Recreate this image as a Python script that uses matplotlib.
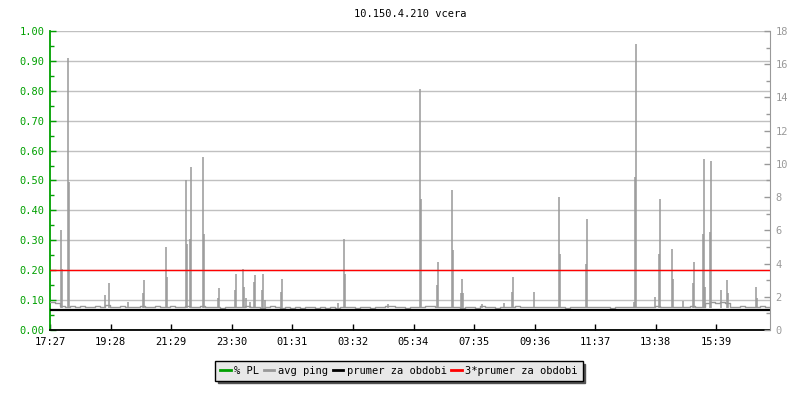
import numpy as np
import matplotlib
matplotlib.use('Agg')
import matplotlib.pyplot as plt
from matplotlib.lines import Line2D
from matplotlib.ticker import MultipleLocator

plt.rcParams['font.family'] = ['DejaVu Sans Mono']
plt.rcParams['font.size'] = 7.5

# casova osa v minutach od 17:27 (24 h)
tick_min = [0, 121, 242, 363, 484, 605, 727, 848, 969, 1090, 1211, 1332]
tick_lbl = ['17:27', '19:28', '21:29', '23:30', '01:31', '03:32',
            '05:34', '07:35', '09:36', '11:37', '13:38', '15:39']

# zakladni avg ping [ms], vzorek po 10 minutach
base_ping = [
    1.70, 1.62, 1.45, 1.40, 1.42, 1.38, 1.45, 1.40, 1.36, 1.42, 1.40, 1.48,
    1.40, 1.38, 1.44, 1.40, 1.36, 1.40, 1.45, 1.38, 1.40, 1.42, 1.38, 1.40,
    1.44, 1.40, 1.36, 1.42, 1.40, 1.38, 1.45, 1.40, 1.36, 1.38, 1.35, 1.40,
    1.36, 1.40, 1.38, 1.42, 1.36, 1.40, 1.35, 1.38, 1.42, 1.36, 1.34, 1.38,
    1.35, 1.38, 1.34, 1.36, 1.38, 1.35, 1.36, 1.34, 1.38, 1.35, 1.40, 1.36,
    1.38, 1.35, 1.36, 1.40, 1.35, 1.38, 1.36, 1.45, 1.42, 1.38, 1.36, 1.35,
    1.36, 1.38, 1.40, 1.45, 1.42, 1.38, 1.36, 1.38, 1.40, 1.36, 1.35, 1.38,
    1.36, 1.35, 1.42, 1.38, 1.36, 1.35, 1.38, 1.36, 1.40, 1.42, 1.38, 1.36,
    1.38, 1.36, 1.40, 1.38, 1.36, 1.40, 1.38, 1.35, 1.36, 1.38, 1.40, 1.36,
    1.38, 1.40, 1.36, 1.38, 1.35, 1.40, 1.38, 1.36, 1.38, 1.40, 1.36, 1.38,
    1.40, 1.45, 1.38, 1.36, 1.40, 1.38, 1.36, 1.40, 1.42, 1.38, 1.36, 1.65,
    1.70, 1.65, 1.70, 1.60, 1.40, 1.38, 1.42, 1.36, 1.40, 1.38, 1.42, 1.38,
    1.40,
]
base_t = list(range(0, 1441, 10))

# spicky avg ping: cas [min], hodnota [ms]
spike_t = [21, 23, 35, 37, 110, 118, 155, 186, 188, 231, 233,
           271, 273, 280, 281, 305, 307, 336, 337, 370, 372, 385, 387,
           391, 400, 407, 409, 423, 425, 430, 461, 463,
           575, 587, 589, 676,
           739, 741, 774, 776, 803, 805, 821, 823, 825, 864, 908, 924, 926,
           968, 1017, 1019, 1072, 1073, 1168, 1170, 1172,
           1210, 1217, 1219, 1243, 1245, 1265, 1285, 1287,
           1305, 1307, 1309, 1319, 1321, 1341, 1353, 1355, 1411, 1413]
spike_v = [6.0, 3.7, 16.4, 8.9, 2.1, 2.8, 1.7, 2.2, 3.0, 5.0, 3.2,
           9.0, 5.2, 5.5, 9.8, 10.4, 5.8, 1.9, 2.5, 2.4, 3.4, 3.7, 2.6,
           1.9, 1.7, 2.9, 3.3, 2.4, 3.4, 1.8, 2.3, 3.1,
           1.6, 5.5, 3.4, 1.55,
           14.5, 7.9, 2.7, 4.1, 8.4, 4.8, 2.2, 3.1, 2.2, 1.55, 1.6, 2.3, 3.2,
           2.3, 8.0, 4.6, 4.0, 6.7, 1.7, 9.2, 17.2,
           2.0, 4.6, 7.9, 4.9, 3.1, 1.75, 2.8, 4.1,
           5.8, 10.3, 2.6, 5.9, 10.2, 2.4, 3.0, 2.2, 2.6, 1.9]

pl = [0.0] * len(base_t)   # packet loss [%]
prumer = 1.2               # prumer za obdobi [ms]

green = '#00a000'
gray = '#999999'

fig = plt.figure(figsize=(8, 4), dpi=100)
ax = fig.add_axes([0.0625, 0.175, 0.9, 0.7475])
ax2 = ax.twinx()

# leva osa - % PL
ax.plot(base_t, pl, color=green, lw=1, zorder=1)
ax.set_xlim(0, 1440)
ax.set_ylim(0, 1.0)
ax.yaxis.set_major_locator(MultipleLocator(0.1))
ax.yaxis.set_minor_locator(MultipleLocator(0.05))
ax.yaxis.set_major_formatter(matplotlib.ticker.FormatStrFormatter('%.2f'))
ax.grid(axis='y', color='#c0c0c0', lw=1)
ax.set_xticks(tick_min)
ax.set_xticklabels(tick_lbl)
ax.tick_params(axis='y', which='both', direction='in', colors=green,
               length=4, width=1, pad=4)
ax.tick_params(axis='y', which='minor', length=3)
ax.tick_params(axis='x', direction='in', length=4, width=1, pad=5, colors='black')
ax.spines['top'].set_visible(False)
ax.spines['right'].set_visible(False)
ax.spines['left'].set_color(green)
ax.spines['left'].set_linewidth(1.3)
ax.spines['bottom'].set_linewidth(1.3)

# prava osa - avg ping
ax2.plot(base_t, base_ping, color=gray, lw=1.0, drawstyle='steps-post')
ax2.vlines(spike_t, 1.3, spike_v, color=gray, lw=1.1)
ax2.axhline(prumer, color='black', lw=1.6)
ax2.axhline(3 * prumer, color='red', lw=1.0)
ax2.set_ylim(0, 18)
ax2.yaxis.set_major_locator(MultipleLocator(2))
ax2.yaxis.set_minor_locator(MultipleLocator(1))
ax2.tick_params(axis='y', which='both', direction='in', colors=gray,
                length=4, width=1, pad=4)
ax2.tick_params(axis='y', which='minor', length=3)
for s in ['top', 'left', 'bottom']:
    ax2.spines[s].set_visible(False)
ax2.spines['right'].set_color(gray)

fig.text(0.5125, 0.965, '10.150.4.210 vcera', ha='center', va='center', color='black')

handles = [Line2D([], [], color=green, lw=2),
           Line2D([], [], color=gray, lw=2),
           Line2D([], [], color='black', lw=2),
           Line2D([], [], color='red', lw=2)]
labels = ['% PL', 'avg ping', 'prumer za obdobi', '3*prumer za obdobi']
leg = fig.legend(handles, labels, ncol=4, loc='center', bbox_to_anchor=(0.49875, 0.0725),
                 frameon=True, fancybox=False, shadow={'color': '#555555', 'alpha': 1},
                 handlelength=1.0, handletextpad=0.35, columnspacing=0.45,
                 borderpad=0.45, fontsize=7.5)
leg.get_frame().set_facecolor('#e8e8e8')
leg.get_frame().set_edgecolor('black')
leg.get_frame().set_alpha(1)

fig.savefig('out.png', dpi=100)
